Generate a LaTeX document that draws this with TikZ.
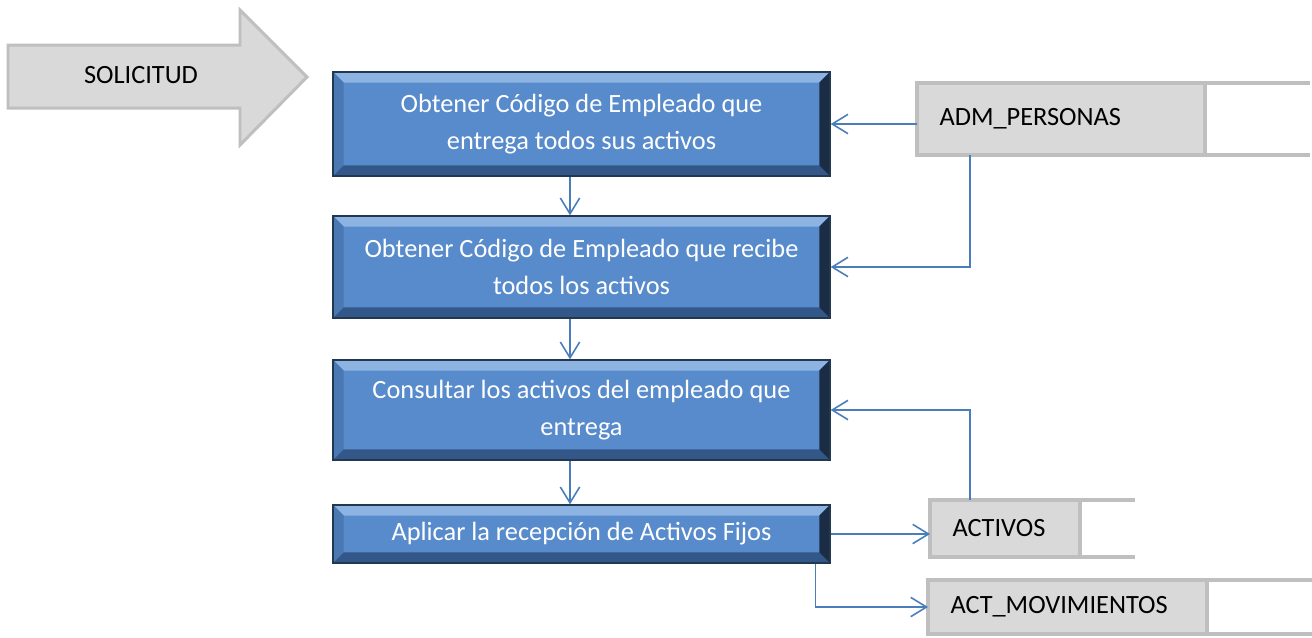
\documentclass[tikz,border=0pt]{standalone}
\usepackage{fontspec}
\setmainfont{Carlito}
\usetikzlibrary{arrows.meta}
\definecolor{procblue}{HTML}{588BCB}
\definecolor{procedge}{HTML}{22384F}
\definecolor{bevtop}{HTML}{8DB3E2}
\definecolor{bevleft}{HTML}{4A78B2}
\definecolor{bevbot}{HTML}{34578A}
\definecolor{bevright}{HTML}{1B2D45}
\definecolor{flowblue}{HTML}{4A7EBB}
\definecolor{storefill}{HTML}{D9D9D9}
\definecolor{storeline}{HTML}{BFBFBF}

\begin{document}
\begin{tikzpicture}[x=0.02cm,y=-0.02cm,
  txt/.style={font=\fontsize{15}{21}\selectfont},
  bevel/.style={path picture={
    \coordinate (nw) at (path picture bounding box.north west);
    \coordinate (ne) at (path picture bounding box.north east);
    \coordinate (se) at (path picture bounding box.south east);
    \coordinate (sw) at (path picture bounding box.south west);
    \fill[bevtop] (nw) -- (ne) -- ++(-6pt,-6pt) -- ([shift={(6pt,-6pt)}]nw) -- cycle;
    \fill[bevleft] (nw) -- (sw) -- ++(6pt,6pt) -- ([shift={(6pt,-6pt)}]nw) -- cycle;
    \fill[bevbot] (sw) -- (se) -- ++(-6pt,6pt) -- ([shift={(6pt,6pt)}]sw) -- cycle;
    \fill[bevright] (se) -- (ne) -- ++(-6pt,-6pt) -- ([shift={(-6pt,6pt)}]se) -- cycle;}},
  proc/.style={txt,bevel,fill=procblue,draw=procedge,line width=0.8pt,text=white,align=center,minimum width=9.94cm},
  store/.style={txt,fill=storefill,draw=storeline,line width=2.5pt,outer sep=0pt,align=left,inner xsep=0.45cm},
  storeend/.style={draw=storeline,line width=2.5pt},
  flow/.style={draw=flowblue,line width=0.9pt,-{Straight Barb[length=9pt,width=11pt]}}]
\useasboundingbox (0,0) rectangle (1312,637);

% input arrow
\path[fill=storefill,draw=storeline,line width=1.7pt] (8,45) -- (240,45) -- (240,10) -- (307,77) -- (240,145) -- (240,108) -- (8,108) -- cycle;
\node[txt] (sol) at (141,75) {SOLICITUD};

% process boxes
\node[proc,minimum height=2.08cm] (b1) at (581.5,124) {Obtener Código de Empleado que\\entrega todos sus activos};
\node[proc,minimum height=2.04cm] (b2) at (581.5,267) {Obtener Código de Empleado que recibe\\todos los activos};
\node[proc,minimum height=2.0cm] (b3) at (581.5,410) {Consultar los activos del empleado que\\entrega};
\node[proc,minimum height=1.16cm] (b4) at (581.5,534) {Aplicar la recepción de Activos Fijos};

% data stores
\node[store,text width=4.86cm,minimum height=1.44cm] (adm) at (1061,119) {ADM\_PERSONAS};
\node[store,text width=2.1cm,minimum height=1.14cm] (act) at (1005,528.5) {ACTIVOS};
\node[store,text width=4.68cm,minimum height=1.08cm] (mov) at (1067.5,607) {ACT\_MOVIMIENTOS};
\path[storeend] (adm.north east) -- ++(2.1cm,0) (adm.south east) -- ++(2.1cm,0);
\path[storeend] (act.north east) -- ++(1.1cm,0) (act.south east) -- ++(1.1cm,0);
\path[storeend] (mov.north east) -- ++(2.1cm,0) (mov.south east) -- ++(2.1cm,0);

% flow
\path[flow] ([xshift=-0.23cm]b1.south) -- ([xshift=-0.23cm]b2.north);
\path[flow] ([xshift=-0.23cm]b2.south) -- ([xshift=-0.23cm]b3.north);
\path[flow] ([xshift=-0.23cm]b3.south) -- ([xshift=-0.23cm]b4.north);
\path[flow] (adm.west |- b1.east) -- (b1.east);
\path[flow] ([xshift=1.06cm]adm.south west) |- (b2.east);
\path[flow] ([xshift=0.8cm]act.north west) |- (b3.east);
\path[flow] (b4.east) -- (act.west |- b4.east);
\path[flow] ([xshift=-0.3cm]b4.south east) |- (mov.west);
\end{tikzpicture}
\end{document}
